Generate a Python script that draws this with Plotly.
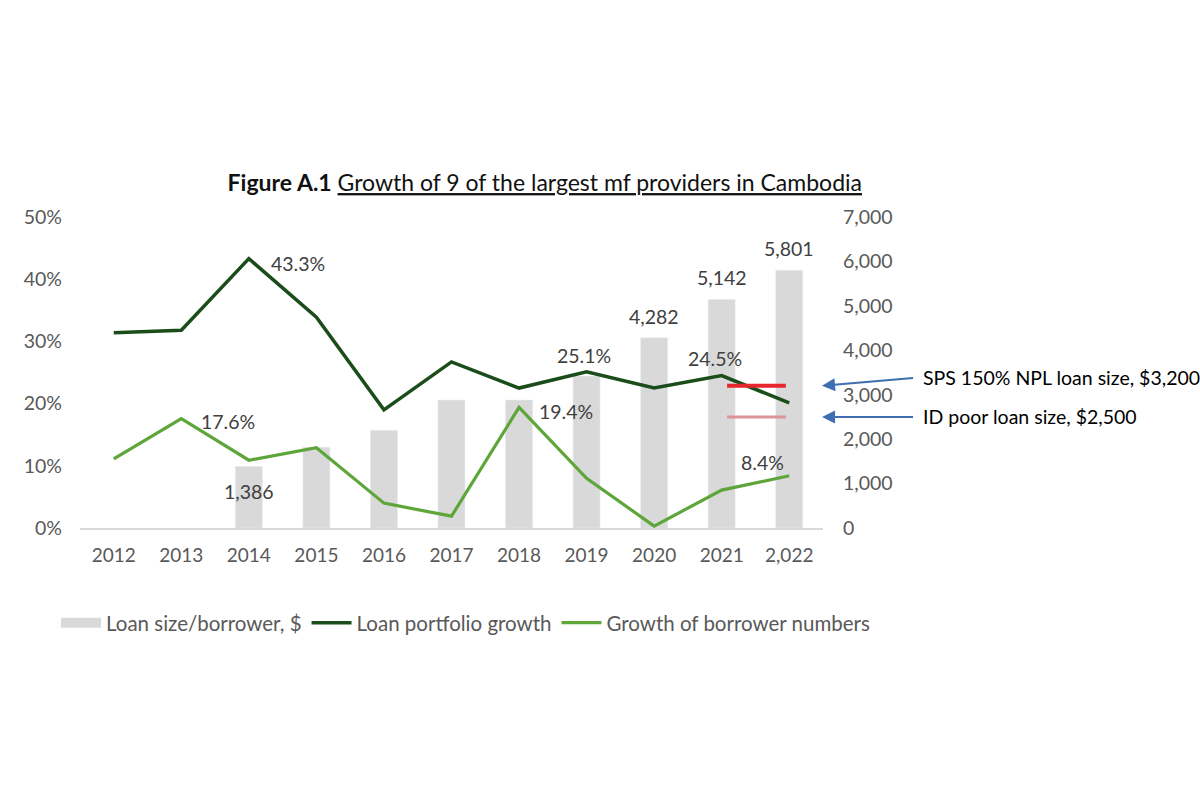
import plotly.graph_objects as go

# ---------------- data ----------------
years = [2012, 2013, 2014, 2015, 2016, 2017, 2018, 2019, 2020, 2021, 2022]
tick_labels = ["2012", "2013", "2014", "2015", "2016", "2017", "2018", "2019", "2020", "2021", "2,022"]
loan_size = [None, None, 1386, 1820, 2200, 2880, 2880, 3420, 4282, 5142, 5801]
portfolio_growth = [0.314, 0.318, 0.433, 0.339, 0.190, 0.267, 0.225, 0.251, 0.225, 0.245, 0.201]
borrower_growth = [0.111, 0.176, 0.109, 0.129, 0.040, 0.019, 0.194, 0.080, 0.003, 0.061, 0.084]

thresholds = [3200, 2500]
threshold_labels = ["SPS 150% NPL loan size, $3,200", "ID poor loan size, $2,500"]
threshold_colors = ["#e8262d", "#dc9499"]

bar_labels = {2014: 1386, 2020: 4282, 2021: 5142, 2022: 5801}
line1_labels = {2014: 0.433, 2019: 0.251, 2021: 0.245}
line2_labels = {2013: 0.176, 2018: 0.194, 2022: 0.084}

FONT = "Lato, 'Open Sans', sans-serif"
GRAY = "#595959"
LABEL = "#404040"
DARK = "#1b4d1b"
LIGHT = "#5ea53a"
BARC = "#d9d9d9"

fig = go.Figure()

fig.add_trace(go.Bar(
    x=years, y=loan_size, name="Loan size/borrower, $",
    marker=dict(color=BARC), width=0.4, yaxis="y", showlegend=False,
))
# legend swatch for the bars (wide grey box, as in the original)
fig.add_trace(go.Scatter(
    x=[None], y=[None], name="Loan size/borrower, $", mode="lines",
    line=dict(color=BARC, width=12), yaxis="y", hoverinfo="skip",
))
fig.add_trace(go.Scatter(
    x=years, y=portfolio_growth, name="Loan portfolio growth", mode="lines",
    line=dict(color=DARK, width=3.5), yaxis="y2",
))
fig.add_trace(go.Scatter(
    x=years, y=borrower_growth, name="Growth of borrower numbers", mode="lines",
    line=dict(color=LIGHT, width=3.2), yaxis="y2",
))

LBL = 19.5
annotations = []
# bar labels
bar_shift = {2014: -25, 2020: 21, 2021: 22, 2022: 22}
for k, v in bar_labels.items():
    annotations.append(dict(x=k, y=v, xref="x", yref="y", text=f"{v:,}", showarrow=False,
                            yshift=bar_shift[k], font=dict(size=LBL, color=LABEL, family=FONT)))
# line labels
l1_shift = {2014: (49, -5), 2019: (-3, 16), 2021: (-7, 17)}
for k, v in line1_labels.items():
    dx, dy = l1_shift[k]
    annotations.append(dict(x=k, y=v, xref="x", yref="y2", text=f"{v*100:.1f}%", showarrow=False,
                            xshift=dx, yshift=dy, font=dict(size=LBL, color=LABEL, family=FONT)))
l2_shift = {2013: (47, -3), 2018: (47, -4), 2022: (-27, 13)}
for k, v in line2_labels.items():
    dx, dy = l2_shift[k]
    annotations.append(dict(x=k, y=v, xref="x", yref="y2", text=f"{v*100:.1f}%", showarrow=False,
                            xshift=dx, yshift=dy, font=dict(size=LBL, color=LABEL, family=FONT)))

# threshold marks, arrows and texts
shapes = []
arrow_dy = [-8, 0]
text_dy = [8, 0]
for val, lab, col, ady, tdy in zip(thresholds, threshold_labels, threshold_colors, arrow_dy, text_dy):
    shapes.append(dict(type="line", xref="x", yref="y", x0=2021.08, x1=2021.95, y0=val, y1=val,
                       line=dict(color=col, width=4 if val == thresholds[0] else 3)))
    annotations.append(dict(x=0.9987, y=val, xref="paper", yref="y", text=" ", showarrow=True,
                            ax=93, ay=ady, arrowhead=2, arrowsize=1.3, arrowwidth=2,
                            arrowcolor="#3f6fb0", font=dict(size=4)))
    annotations.append(dict(x=1.132, y=val, xref="paper", yref="y", text=lab, showarrow=False,
                            xanchor="left", yshift=tdy,
                            font=dict(size=19.5, color="#000000", family=FONT)))

fig.update_layout(
    width=1200, height=800,
    margin=dict(l=80, r=377, t=217, b=272),
    paper_bgcolor="white", plot_bgcolor="white",
    font=dict(family=FONT, size=19, color=GRAY),
    title=dict(text="<b>Figure A.1</b> <u>Growth of 9 of the largest mf providers in Cambodia</u>",
               x=0.454, xref="container", xanchor="center", y=1 - 183 / 800, yref="container",
               yanchor="middle", font=dict(size=23, color="#111111", family=FONT)),
    xaxis=dict(range=[2011.5, 2022.5], tickvals=years, ticktext=tick_labels, showgrid=False,
               zeroline=False, showline=True, linecolor=BARC, linewidth=1.5,
               ticks="", tickfont=dict(size=19, color=GRAY), ticklabelstandoff=9),
    yaxis=dict(side="right", range=[0, 7000], dtick=1000, tickformat=",", showgrid=False,
               zeroline=False, showline=False, tickfont=dict(size=19.5, color=GRAY),
               ticklabelstandoff=19),
    yaxis2=dict(side="left", overlaying="y", range=[0, 0.5], dtick=0.1, tickformat=".0%",
                showgrid=False, zeroline=False, showline=False,
                tickfont=dict(size=19.5, color=GRAY), ticklabelstandoff=17),
    legend=dict(orientation="h", x=1.07, xanchor="right", y=-0.305, yanchor="middle",
                font=dict(size=20.5, color=GRAY), itemwidth=40, traceorder="normal",
                tracegroupgap=0),
    annotations=annotations, shapes=shapes,
)

fig.write_html("out.html")
